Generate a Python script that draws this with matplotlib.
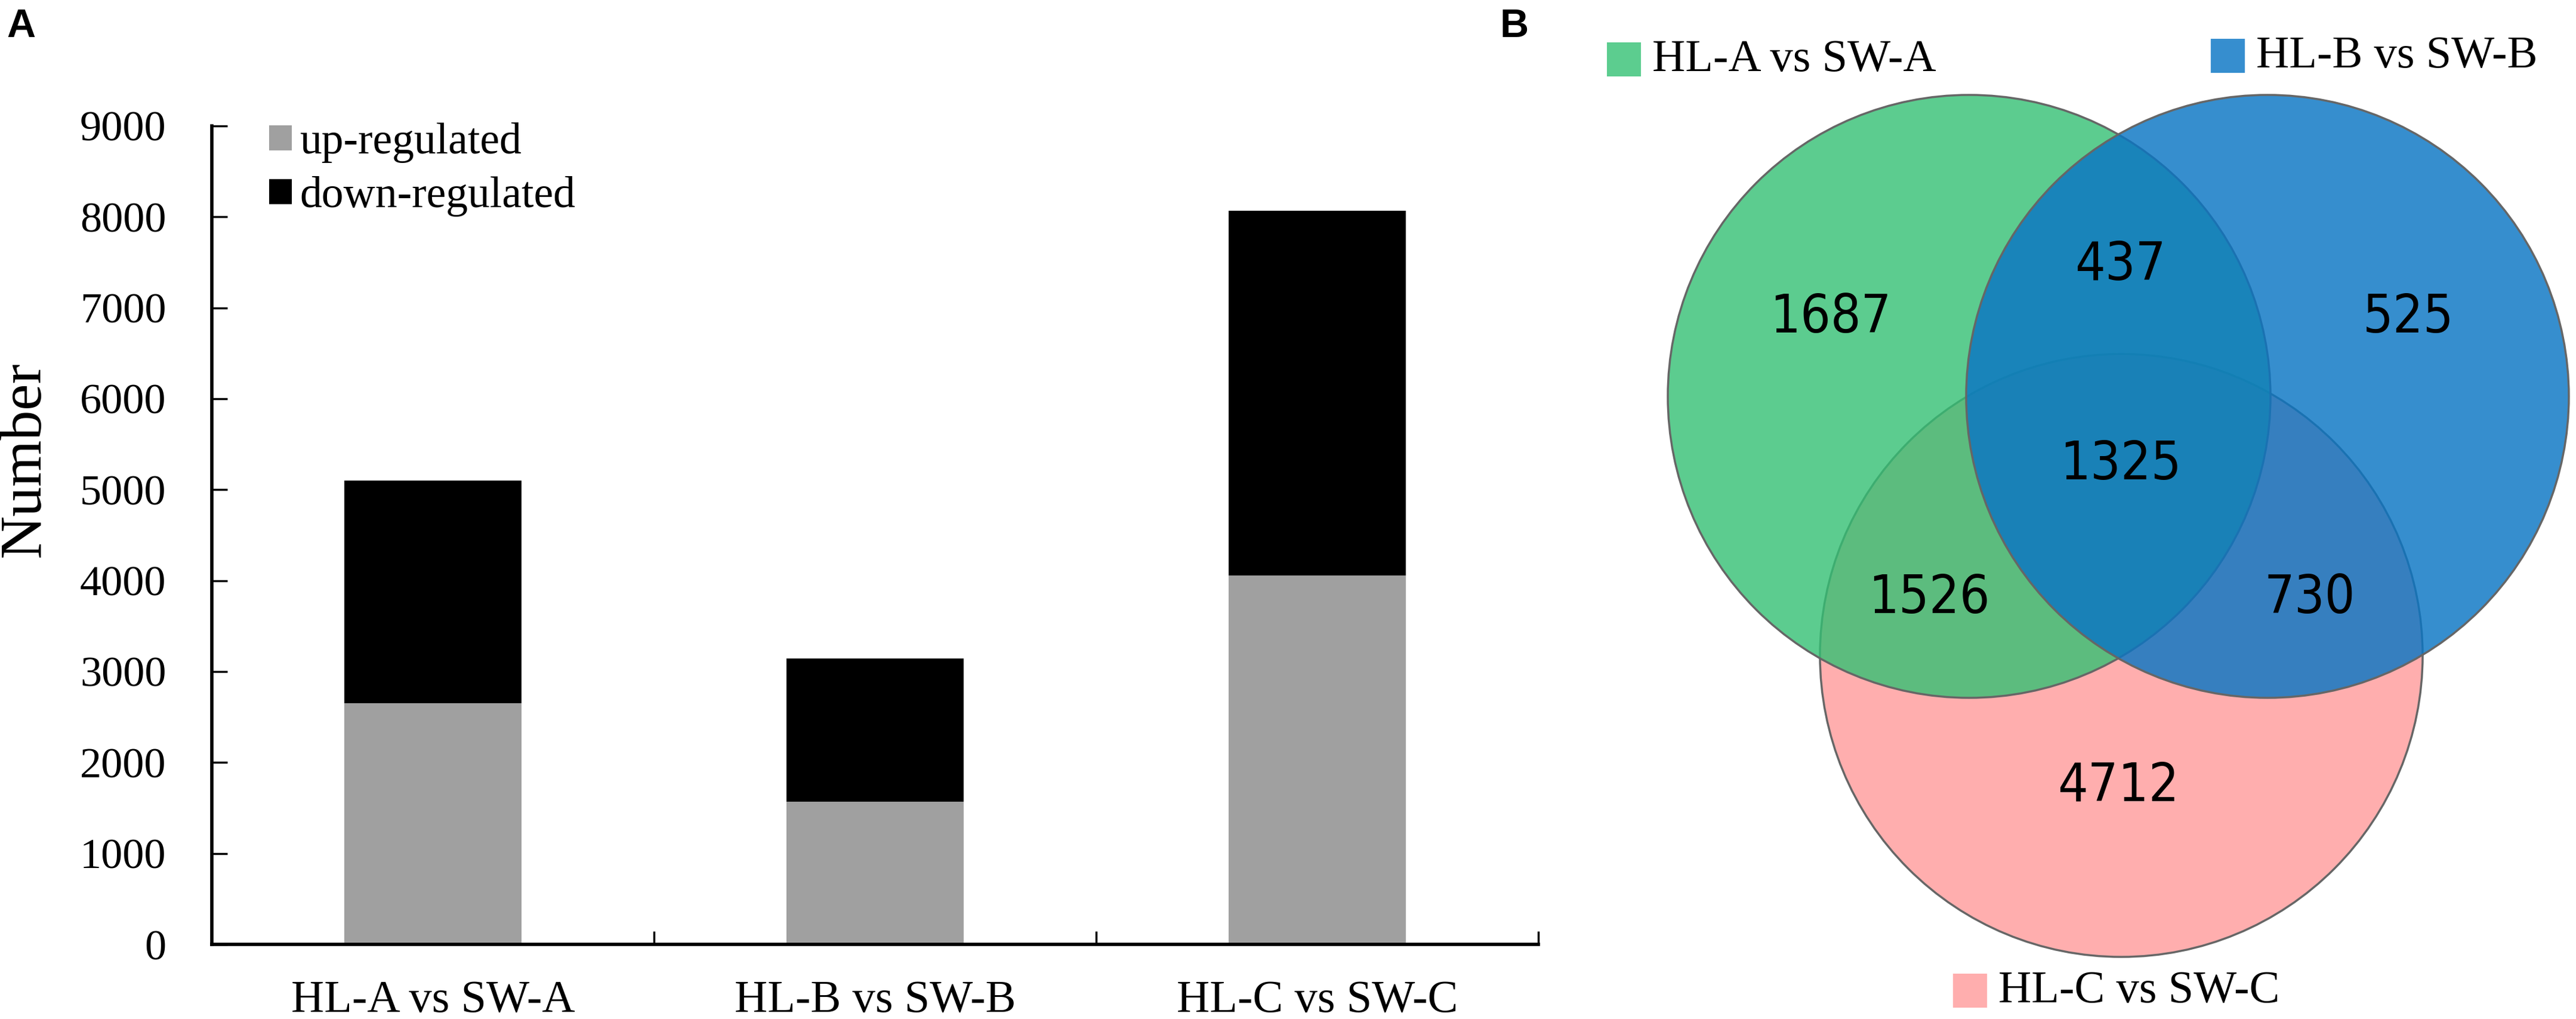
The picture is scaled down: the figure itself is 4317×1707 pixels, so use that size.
import numpy as np
import matplotlib.pyplot as plt
from matplotlib.patches import Circle, Rectangle
from matplotlib import font_manager

# data
groups = ['HL-A vs SW-A', 'HL-B vs SW-B', 'HL-C vs SW-C']
up = [2650, 1570, 4060]
down = [2450, 1575, 4010]
venn_sets = ['HL-A vs SW-A', 'HL-B vs SW-B', 'HL-C vs SW-C']
venn_counts = [1687, 437, 525, 1325, 1526, 730, 4712]

W, H = 4317, 1707
fig = plt.figure(figsize=(W / 100, H / 100), dpi=100)

def fx(p):
    return p / W

def fy(p):
    return 1 - p / H

serif = 'Liberation Serif'

# narrow sans for the venn numbers if there is one
cond = [f for f in font_manager.fontManager.ttflist
        if f.name == 'DejaVu Sans' and f.stretch in ('condensed', 'semi-condensed')]
if cond:
    num_font = dict(family='DejaVu Sans', stretch='condensed', fontsize=64)
else:
    num_font = dict(family='DejaVu Sans', fontsize=58)

# ---- panel A: stacked bars
ax = fig.add_axes([fx(355), fy(1582), (2578 - 355) / W, (1582 - 211) / H])
x = np.arange(len(groups))
ax.bar(x, up, width=0.4, color='#a0a0a0', label='up-regulated')
ax.bar(x, down, width=0.4, bottom=up, color='black', label='down-regulated')
ax.set_xlim(-0.5, 2.5)
ax.set_ylim(0, 9000)
ax.set_yticks(np.arange(0, 9001, 1000))
ax.set_xticks(x)
ax.set_xticklabels(groups, fontfamily=serif, fontsize=55)
ax.set_xticks([0.5, 1.5, 2.5], minor=True)
ax.tick_params(axis='x', which='major', length=0, pad=43)
ax.tick_params(axis='x', which='minor', direction='in', length=16, width=2.5)
ax.tick_params(axis='y', direction='in', length=19, width=2.5, pad=55)
for lab in ax.get_yticklabels():
    lab.set_fontfamily(serif)
    lab.set_fontsize(52)
for s in ['top', 'right']:
    ax.spines[s].set_visible(False)
for s in ['left', 'bottom']:
    ax.spines[s].set_linewidth(4)
fig.text(fx(42), fy(770), 'Number', rotation=90, ha='center', va='center',
         fontfamily=serif, fontsize=72)
ax.legend(loc='upper left', bbox_to_anchor=(fx(451), fy(205)),
          bbox_transform=fig.transFigure, frameon=False, borderpad=0,
          borderaxespad=0, handlelength=0.52, handleheight=0.5,
          handletextpad=0.18, labelspacing=0.3,
          prop={'family': serif, 'size': 53})

# ---- panel B: venn
ax2 = fig.add_axes([fx(2600), 0, 1 - fx(2600), 1])
ax2.set_xlim(2600, W)
ax2.set_ylim(H, 0)
ax2.axis('off')

centers = [(3300, 664), (3800, 664), (3555, 1098)]
r = 505
fills = [(51 / 255, 192 / 255, 115 / 255, 0.8),
         (10 / 255, 117 / 255, 196 / 255, 0.82),
         (1.0, 174 / 255, 174 / 255, 1.0)]
edge = '#666666'
for i in [2, 0, 1]:
    ax2.add_patch(Circle(centers[i], r, facecolor=fills[i], edgecolor=edge,
                         linewidth=2.5))

num_pos = [(3068, 533), (3553, 444), (4036, 533), (3554, 778),
           (3233, 1002), (3871, 1002), (3550, 1317)]
for (px, py), n in zip(num_pos, venn_counts):
    ax2.text(px, py, str(n), ha='center', va='center', **num_font)

leg_sq = [(2693, 71), (3705, 65), (3273, 1631)]
leg_col = ['#5ccd8f', '#368ecf', '#ffaeae']
for (sx, sy), c, name in zip(leg_sq, leg_col, venn_sets):
    ax2.add_patch(Rectangle((sx, sy), 57, 57, facecolor=c, edgecolor='none'))
    ax2.text(sx + 76, sy + 30, name, ha='left', va='center',
             fontfamily=serif, fontsize=55)

fig.text(fx(35), fy(45), 'A', ha='center', va='center', fontsize=48,
         fontweight='bold', fontfamily='Liberation Sans')
fig.text(fx(2538), fy(45), 'B', ha='center', va='center', fontsize=48,
         fontweight='bold', fontfamily='Liberation Sans')

fig.savefig('out.png', dpi=100)
